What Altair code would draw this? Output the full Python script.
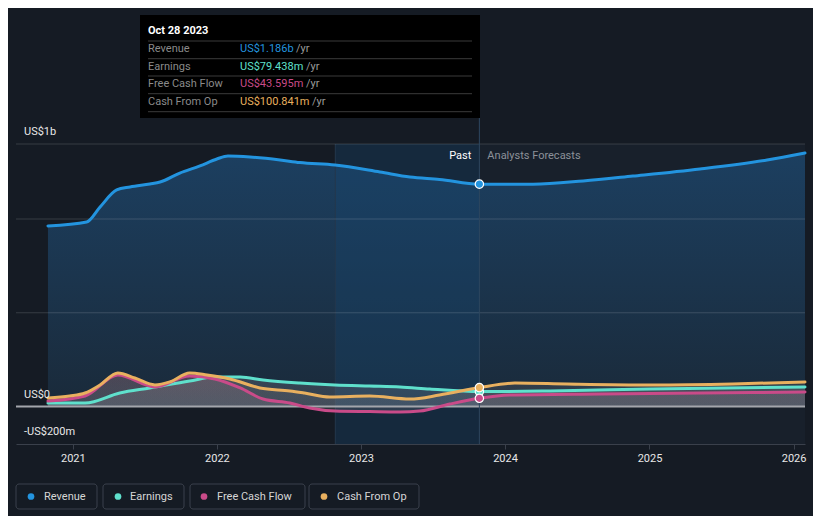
import altair as alt
import pandas as pd

# ---------------- data (millions USD) ----------------
rev_dates = ["2020-10-30", "2021-02-05", "2021-03-11", "2021-04-22", "2021-05-26", "2021-07-15",
             "2021-08-10", "2021-09-29", "2021-11-19", "2022-01-01", "2022-01-29", "2022-03-26",
             "2022-06-10", "2022-07-30", "2022-10-27", "2023-02-18", "2023-05-05", "2023-07-19",
             "2023-10-28", "2024-03-12", "2024-07-17", "2024-11-20", "2025-05-09", "2025-10-26",
             "2026-01-30"]
rev_vals = [963, 984, 1064, 1155, 1171, 1187, 1197, 1245, 1283, 1320, 1336, 1331, 1315, 1301,
            1288, 1251, 1224, 1211, 1186, 1186, 1203, 1229, 1267, 1315, 1352]

earn_dates = ["2020-10-30", "2021-02-01", "2021-04-30", "2021-07-15", "2021-10-24", "2021-12-27",
              "2022-03-01", "2022-04-28", "2022-07-30", "2022-10-27", "2023-01-23", "2023-04-10",
              "2023-06-24", "2023-10-28", "2024-04-24", "2025-01-03", "2026-01-30"]
earn_vals = [19, 19, 72, 99, 136, 157, 157, 141, 125, 115, 109, 104, 93, 79.4, 83, 93, 104]

fcf_dates = ["2020-10-30", "2021-02-01", "2021-04-25", "2021-07-28", "2021-10-24", "2021-12-27",
             "2022-03-01", "2022-04-28", "2022-07-05", "2022-08-24", "2022-10-27", "2023-01-23",
             "2023-04-10", "2023-05-30", "2023-08-14", "2023-10-28", "2024-01-13", "2024-08-29",
             "2026-01-30"]
fcf_vals = [29, 56, 168, 104, 163, 147, 99, 40, 19, -8, -24, -27, -29, -24, 13, 43.6, 61, 67, 77]

cfo_dates = ["2020-10-30", "2020-12-24", "2021-02-01", "2021-03-11", "2021-04-25", "2021-06-07",
             "2021-07-28", "2021-09-04", "2021-10-24", "2021-12-07", "2022-02-03", "2022-04-20",
             "2022-07-05", "2022-08-11", "2022-10-14", "2023-01-23", "2023-05-05", "2023-07-19",
             "2023-10-28", "2024-01-26", "2024-06-06", "2025-01-03", "2025-07-31", "2026-01-30"]
cfo_vals = [45, 56, 72, 115, 179, 152, 115, 131, 179, 168, 147, 99, 83, 72, 51, 56, 40, 61,
            100.8, 125, 120, 115, 120, 131]

series_names = ["Revenue", "Earnings", "Free Cash Flow", "Cash From Op"]
series_colors = ["#2394df", "#5fe0cc", "#c94b89", "#e9b05f"]

tip_date = "2023-10-28"
tip_title = "Oct 28 2023"
tip_values = ["US$1.186b", "US$79.438m", "US$43.595m", "US$100.841m"]
tip_current = [1186, 79.4, 43.6, 100.8]

x_domain = ["2020-08-10", "2026-01-30"]
x_tick_years = [2021, 2022, 2023, 2024, 2025, 2026]
band_start = "2022-10-28"
y_ticks_grid = [500, 1000, 1400]
y_labels = ["US$1b", "US$0", "-US$200m"]

# ---------------- layout (pixels, relative to plot origin) ----------------
W, H = 789, 300
FONT = "Roboto"
BG = "#151b24"

xs = alt.Scale(domain=x_domain)
ys = alt.Scale(domain=[-200, 1400], nice=False, zero=False)


def frame(dates, vals, name):
    return pd.DataFrame({"date": dates, "v": vals, "s": name})


rev = frame(rev_dates, rev_vals, "Revenue")
earn = frame(earn_dates, earn_vals, "Earnings")
fcf = frame(fcf_dates, fcf_vals, "Free Cash Flow")
cfo = frame(cfo_dates, cfo_vals, "Cash From Op")

X = alt.X("date:T", scale=xs, title=None,
          axis=alt.Axis(format="%Y", values=[alt.DateTime(year=y) for y in x_tick_years], grid=False,
                        domainColor="#3a404b", tickColor="#3a404b", tickSize=5,
                        labelColor="#e8e8e8", labelFont=FONT, labelFontSize=11,
                        labelPadding=3, domainWidth=1))
Y = alt.Y("v:Q", scale=ys, title=None, axis=None)

one = pd.DataFrame({"k": [0]})

# forecast lighter background
fc_bg = alt.Chart(pd.DataFrame({"date": [tip_date], "b": [x_domain[1]]})).mark_rect(
    color="#18202b").encode(x=X, x2="b:T", y=alt.value(0), y2=alt.value(H))

rev_area = alt.Chart(rev).mark_area(
    interpolate="monotone",
    color=alt.Gradient(gradient="linear", x1=0, y1=0, x2=0, y2=1,
                       stops=[alt.GradientStop(color="#1c3f60", offset=0),
                              alt.GradientStop(color="#1a2a3a", offset=1)])
).encode(x=X, y=Y, y2=alt.datum(0))

band = alt.Chart(pd.DataFrame({"date": [band_start], "b": [tip_date]})).mark_rect(
    color="#16456e", opacity=0.35).encode(x=X, x2="b:T", y=alt.value(0), y2=alt.value(H))

band_edge = alt.Chart(pd.DataFrame({"date": [band_start]})).mark_rule(
    color="#23384d", strokeWidth=1).encode(x=X, y=alt.value(0), y2=alt.value(H))

grid = alt.Chart(pd.DataFrame({"v": y_ticks_grid})).mark_rule(
    color="#ffffff", opacity=0.14, strokeWidth=1).encode(y=Y)


def low_area(df, col, op):
    return alt.Chart(df).mark_area(
        interpolate="monotone", opacity=op,
        color=alt.Gradient(gradient="linear", x1=0, y1=0, x2=0, y2=1,
                           stops=[alt.GradientStop(color=col, offset=0),
                                  alt.GradientStop(color="#9a9aa2", offset=1)])
    ).encode(x=X, y=Y, y2=alt.datum(0))


areas = [low_area(earn, "#b8b8bc", 0.18), low_area(fcf, "#c07090", 0.18), low_area(cfo, "#b09080", 0.16)]

zero = alt.Chart(pd.DataFrame({"v": [0]})).mark_rule(color="#a3a6ac", strokeWidth=2).encode(y=Y)


def line(df, col, w=3):
    return alt.Chart(df).mark_line(interpolate="monotone", color=col, strokeWidth=w,
                                   strokeCap="round").encode(x=X, y=Y)


lines = [line(earn, series_colors[1]), line(fcf, series_colors[2]), line(cfo, series_colors[3]),
         line(rev, series_colors[0])]

vrule = alt.Chart(pd.DataFrame({"date": [tip_date]})).mark_rule(color="#2e4760", strokeWidth=1).encode(
    x=X, y=alt.value(-26), y2=alt.value(H))

dots = []
for v, c in zip(tip_current, series_colors):
    dots.append(alt.Chart(pd.DataFrame({"date": [tip_date], "v": [v]})).mark_circle(
        size=70, opacity=1, color=c, stroke="#ffffff", strokeWidth=1.2).encode(x=X, y=Y))

past_txt = alt.Chart(pd.DataFrame({"date": [tip_date]})).mark_text(
    text="Past", align="right", baseline="middle", dx=-8, font=FONT, fontSize=11,
    color="#ffffff").encode(x=X, y=alt.value(12))
fc_txt = alt.Chart(pd.DataFrame({"date": [tip_date]})).mark_text(
    text="Analysts Forecasts", align="left", baseline="middle", dx=8, font=FONT, fontSize=11,
    color="#8c9199").encode(x=X, y=alt.value(12))

deco = []


def txt(t, x, y, color, align="left", weight="normal", size=11):
    deco.append(alt.Chart(one).mark_text(text=t, align=align, baseline="middle", font=FONT,
                                         fontSize=size, fontWeight=weight, color=color).encode(
        x=alt.value(x), y=alt.value(y)))


# y labels
for t, py in zip(y_labels, [-12, 251, 288]):
    txt(t, 8, py, "#e8e8e8")

# tooltip box
deco.append(alt.Chart(one).mark_rect(color="#000000").encode(
    x=alt.value(124), x2=alt.value(464), y=alt.value(-129), y2=alt.value(-26)))
txt(tip_title, 132, -113, "#ffffff", weight="bold")
for py in [-103, -85.3, -68, -50.3, -32.3]:
    deco.append(alt.Chart(one).mark_rule(color="#3a3a3a", strokeWidth=1).encode(
        x=alt.value(132), x2=alt.value(456), y=alt.value(py)))
for name, val, col, py, yrx in zip(series_names, tip_values, series_colors,
                                   [-95, -77.3, -59.7, -42.3], [280, 290, 290, 296]):
    txt(name, 132, py, "#8a8a8a")
    txt(val, 224, py, col)
    txt("/yr", yrx, py, "#9a9a9a")

# legend
for name, col, bx0, bx1, dx, tx in zip(series_names, series_colors, [0, 87, 174, 293],
                                       [81, 168, 289, 403], [15, 102, 188, 308], [28, 114, 201, 321]):
    deco.append(alt.Chart(one).mark_rect(fillOpacity=0, stroke="#3b414c", strokeWidth=1,
                                         cornerRadius=3).encode(
        x=alt.value(bx0), x2=alt.value(bx1), y=alt.value(340), y2=alt.value(365)))
    deco.append(alt.Chart(one).mark_circle(size=45, opacity=1, color=col).encode(
        x=alt.value(dx), y=alt.value(352.5)))
    txt(name, tx, 352.5, "#d6d6d6")

chart = alt.layer(
    fc_bg, rev_area, band, band_edge, grid, *areas, zero, *lines, vrule, *dots,
    past_txt, fc_txt, *deco
).properties(
    width=W, height=H,
    autosize=alt.AutoSizeParams(type="none"),
    padding={"left": 8, "top": 136, "right": 8, "bottom": 72},
    background=BG
).configure_view(stroke=None)

chart.save("out.html", embed_options={"renderer": "svg", "actions": False})
